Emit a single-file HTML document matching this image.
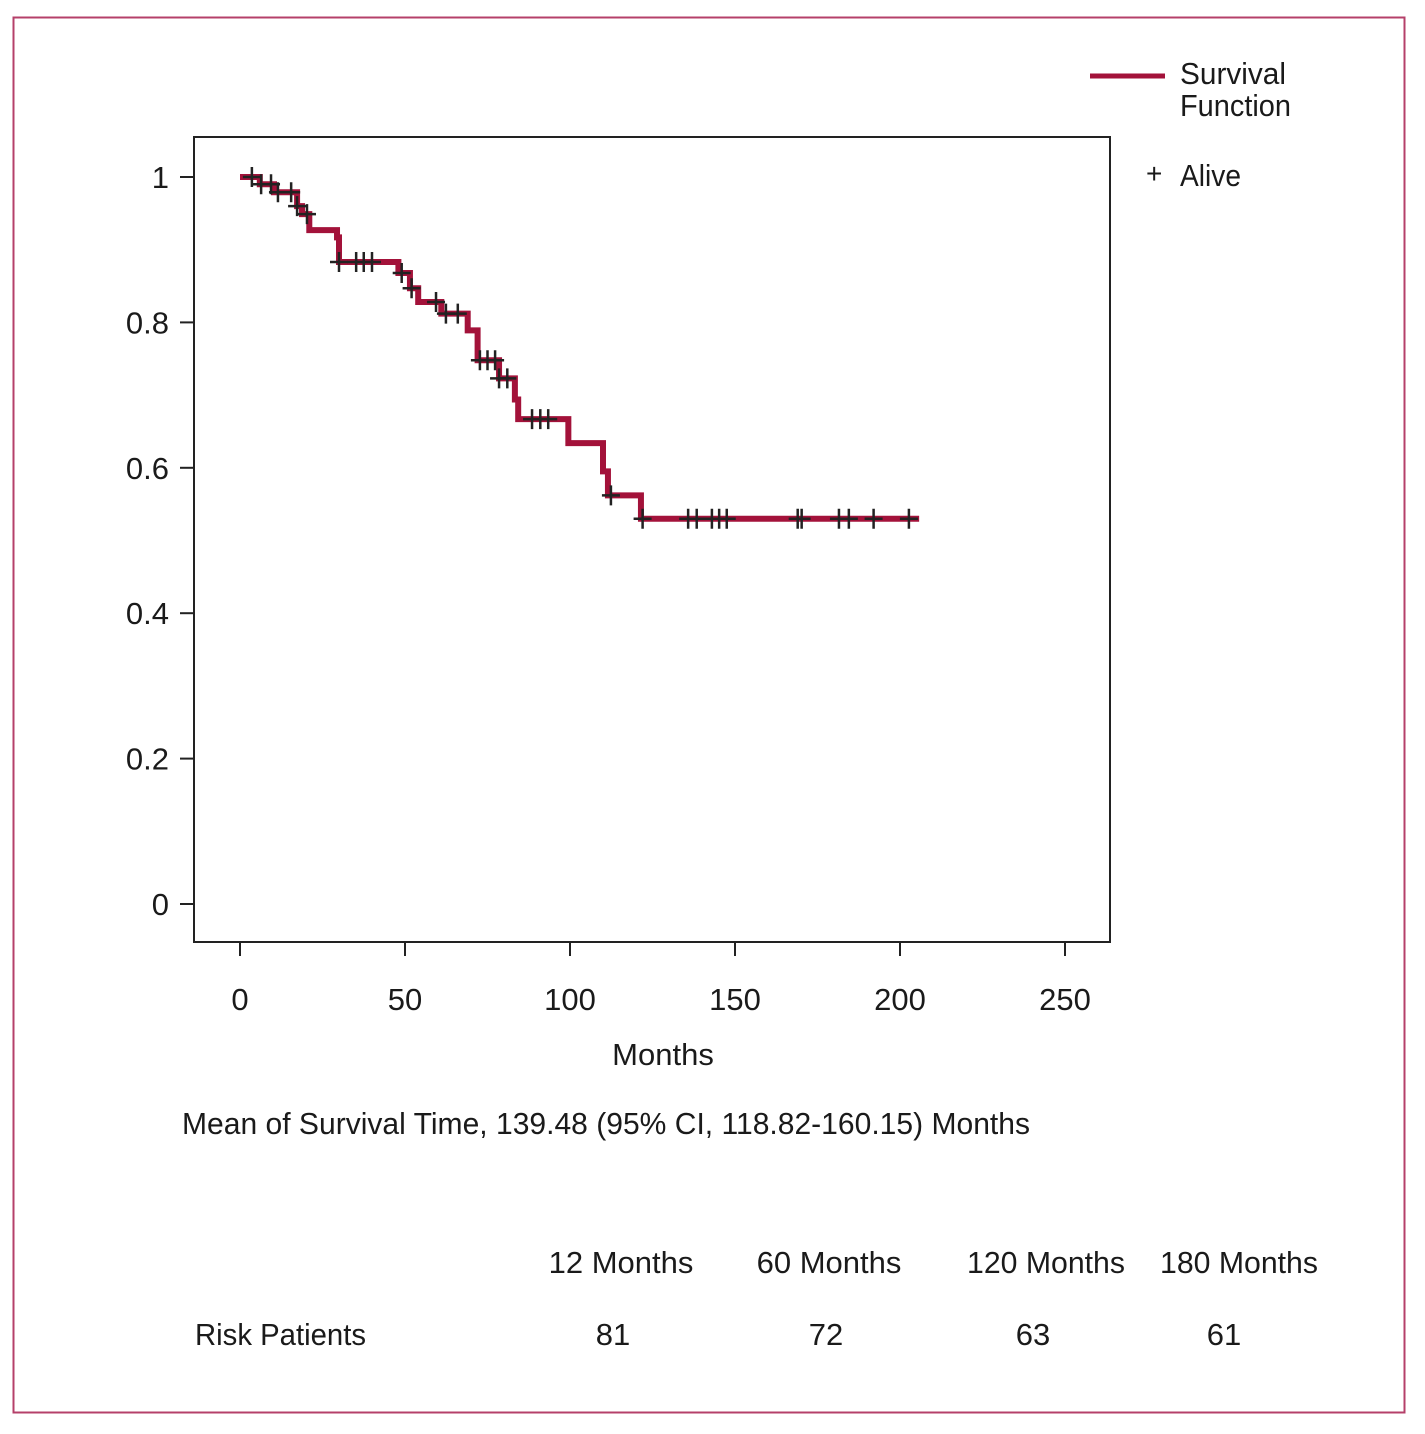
<!DOCTYPE html>
<html><head><meta charset="utf-8"><style>
body{margin:0;background:#fff}
svg text{font-family:"Liberation Sans Narrow","Liberation Sans",sans-serif;fill:#1a1a1a}
</style></head><body>
<svg id="chart" width="1425" height="1429" xmlns="http://www.w3.org/2000/svg">
<rect x="13.5" y="17.5" width="1391" height="1395" fill="none" stroke="#b5406a" stroke-width="2"/>
<rect x="194" y="137" width="916" height="805" fill="none" stroke="#222" stroke-width="2"/>
<g id="axes"></g>
<g id="curve"></g>
<g>
<line x1="1090" y1="76" x2="1165" y2="76" stroke="#a3123a" stroke-width="5"/>
<text x="1180" y="84" font-size="31" textLength="106" lengthAdjust="spacingAndGlyphs">Survival</text>
<text x="1180" y="116" font-size="31" textLength="111" lengthAdjust="spacingAndGlyphs">Function</text>
<text x="1146" y="183" font-size="28">+</text>
<text x="1180" y="186" font-size="31" textLength="61" lengthAdjust="spacingAndGlyphs">Alive</text>
</g>
<text x="663" y="1065" font-size="31" text-anchor="middle">Months</text>
<text x="182" y="1134" font-size="31" textLength="848" lengthAdjust="spacingAndGlyphs">Mean of Survival Time, 139.48 (95% CI, 118.82-160.15) Months</text>
<g>
<text x="621" y="1273" font-size="31" text-anchor="middle">12 Months</text>
<text x="829" y="1273" font-size="31" text-anchor="middle">60 Months</text>
<text x="1046" y="1273" font-size="31" text-anchor="middle" textLength="158" lengthAdjust="spacingAndGlyphs">120 Months</text>
<text x="1239" y="1273" font-size="31" text-anchor="middle" textLength="158" lengthAdjust="spacingAndGlyphs">180 Months</text>
<text x="195" y="1345" font-size="31" textLength="171" lengthAdjust="spacingAndGlyphs">Risk Patients</text>
<text x="613" y="1345" font-size="31" text-anchor="middle">81</text>
<text x="826" y="1345" font-size="31" text-anchor="middle">72</text>
<text x="1033" y="1345" font-size="31" text-anchor="middle">63</text>
<text x="1224" y="1345" font-size="31" text-anchor="middle">61</text>
</g>
</svg>
<script>
const xTicks=[0,50,100,150,200,250];
const yTicks=[0,0.2,0.4,0.6,0.8,1];
const yTickLabels=["0","0.2","0.4","0.6","0.8","1"];
const stepTimes=[0,6,10.3,17.3,18.8,21,29.4,30,48,51.5,54,61,69,72,78.5,83.3,84.3,99.5,110,111.5,121.5];
const stepSurv=[1.0,0.990,0.979,0.960,0.949,0.927,0.917,0.883,0.868,0.847,0.828,0.812,0.789,0.748,0.723,0.694,0.667,0.634,0.595,0.562,0.530];
const endTime=205.8;
const censorTimes=[3.6,6.4,9.4,11.5,15.5,17.3,20.3,30,35.2,37.5,40,49,52,59.4,62.4,66,72.7,75,77.3,78.5,81,88.5,91,93.4,112.4,122,135.8,138.4,143,145.2,147.5,169,170.2,181.5,184.5,192,202.7];
const NS="http://www.w3.org/2000/svg";
function X(m){return 240+m*3.3;}
function Y(s){return 904-s*727;}
function mk(t,a,p){const e=document.createElementNS(NS,t);for(const k in a)e.setAttribute(k,a[k]);p.appendChild(e);return e;}
const ax=document.getElementById('axes');
xTicks.forEach(v=>{
 const l=mk('line',{x1:X(v),x2:X(v),y1:942,y2:956,stroke:'#222','stroke-width':2},ax);
 
 
 const t=mk('text',{x:X(v),y:1010,'font-size':31,'text-anchor':'middle'},ax);
 t.textContent=v;
 
 
});
yTicks.forEach((v,i)=>{
 const l=mk('line',{x1:180,x2:194,y1:Y(v),y2:Y(v),stroke:'#222','stroke-width':2},ax);
 
 
 const t=mk('text',{x:169,y:Y(v)+11,'font-size':31,'text-anchor':'end'},ax);
 t.textContent=yTickLabels[i];
 
 
});
const cg=document.getElementById('curve');
let d='M'+X(stepTimes[0])+' '+Y(stepSurv[0]);
for(let i=1;i<stepTimes.length;i++){d+=' H'+X(stepTimes[i])+' V'+Y(stepSurv[i]);}
d+=' H'+X(endTime);
const p=mk('path',{d:d,fill:'none',stroke:'#a3123a','stroke-width':6},cg);


function survAt(t){let s=stepSurv[0];for(let i=0;i<stepTimes.length;i++){if(stepTimes[i]<=t)s=stepSurv[i];}return s;}
censorTimes.forEach(t=>{
 const x=X(t),y=Y(survAt(t));
 const c=mk('path',{d:`M${x} ${y-10} V${y+10} M${x-9} ${y} H${x+9}`,stroke:'#222','stroke-width':2.5,fill:'none'},cg);
 
 
});
</script>
</body></html>
